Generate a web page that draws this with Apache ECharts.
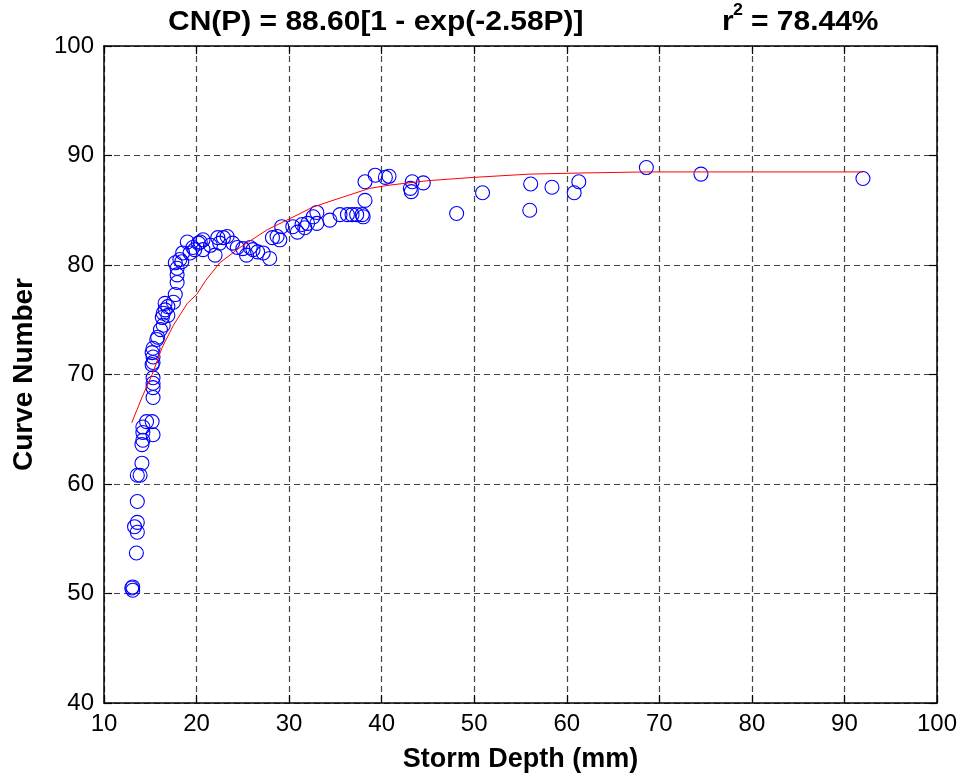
<!DOCTYPE html>
<html><head><meta charset="utf-8">
<script src="https://cdn.jsdelivr.net/npm/echarts@6/dist/echarts.min.js"></script>
<style>html,body{margin:0;padding:0;background:#fff}#c{width:962px;height:778px}</style>
</head><body><div id="c"></div>
<script>
const xTicks = [10,20,30,40,50,60,70,80,90,100];
const yTicks = [40,50,60,70,80,90,100];
const obsDepth = [13.0,13.1,13.1,13.5,13.6,13.3,13.6,13.6,14.1,13.9,13.6,14.6,15.2,14.2,15.3,14.2,14.2,14.1,15.3,15.3,15.3,15.3,15.3,15.2,15.3,15.3,15.2,16.3,16.4,16.1,15.8,15.7,16.6,16.9,16.6,16.4,16.9,17.7,17.5,17.9,17.9,18.5,19.3,18.2,17.7,18.4,17.9,19.0,20.4,19.6,21.5,22.9,23.3,22.5,23.9,20.7,20.2,20.7,19.8,22.0,22.3,24.4,25.0,25.4,25.8,26.1,26.6,27.2,27.9,28.2,28.7,29.0,29.2,30.4,30.9,31.4,31.7,32.0,33.0,32.6,33.0,34.4,35.5,36.3,36.8,37.3,37.9,38.0,38.2,38.2,39.3,40.4,40.8,43.3,43.1,43.2,44.5,48.1,50.9,56.1,56.0,58.4,60.8,61.3,68.6,74.5,92.0];
const obsCN = [50.5,50.6,50.3,53.7,56.5,56.1,55.6,58.4,61.9,60.8,60.8,65.7,65.7,65.2,64.5,64.7,64.0,63.6,69.7,69.2,68.8,67.9,72.4,72.0,71.6,71.1,70.9,75.2,74.5,74.1,73.4,73.2,76.5,76.2,75.9,75.6,75.4,77.3,76.6,79.1,78.4,81.1,81.1,80.5,80.2,80.3,79.7,82.1,82.1,81.6,81.8,82.5,82.6,82.0,82.0,82.3,82.0,81.4,81.4,80.9,82.5,81.6,81.5,80.9,81.6,81.4,81.2,81.1,80.6,82.5,82.6,82.3,83.5,83.5,83.0,83.7,83.4,83.8,83.8,84.4,84.8,84.1,84.6,84.6,84.6,84.6,84.6,84.4,85.9,87.6,88.2,88.0,88.1,87.6,87.0,86.7,87.5,84.7,86.6,87.4,85.0,87.1,86.6,87.6,88.9,88.3,87.9];
const fitDepth = [13.0,14.1,15.2,16.3,17.5,19.0,20.0,21.0,22.5,24.7,27.6,30.0,32.6,35.8,38.7,40.9,45.0,49.9,56.0,61.4,68.6,74.5,92.0];
const fitCN = [65.6,67.9,70.0,72.5,74.5,76.5,77.3,78.6,80.2,81.6,83.2,84.2,85.3,86.2,87.0,87.3,87.7,88.0,88.3,88.4,88.5,88.5,88.5];

const FONT = '"Liberation Sans", Arial, sans-serif';
const chart = echarts.init(document.getElementById('c'), null, {renderer:'canvas'});
const gridLine = {show:true, lineStyle:{color:'#444', width:1.2, type:[6,4]}};
const axisLineBlack = {show:true, onZero:false, lineStyle:{color:'#000', width:1.5}};
const tick = {show:true, inside:true, length:8, lineStyle:{color:'#000', width:1.2}};
chart.setOption({
  animation:false,
  backgroundColor:'#fff',
  grid:{left:104, right:25, top:46, bottom:75, containLabel:false},
  xAxis:[{
    type:'value', min:10, max:100, interval:10, position:'bottom',
    axisLine:axisLineBlack, axisTick:tick,
    splitLine:gridLine,
    axisLabel:{color:'#000', fontFamily:FONT, fontSize:24, margin:9},
    name:'Storm Depth (mm)', nameLocation:'middle', nameGap:43,
    nameTextStyle:{color:'#000', fontFamily:FONT, fontSize:27, fontWeight:'bold'}
  },{
    type:'value', min:10, max:100, interval:10, position:'top',
    axisLine:axisLineBlack, axisTick:tick,
    splitLine:{show:false}, axisLabel:{show:false}
  }],
  yAxis:[{
    type:'value', min:40, max:100, interval:10, position:'left',
    axisLine:axisLineBlack, axisTick:tick,
    splitLine:gridLine,
    axisLabel:{color:'#000', fontFamily:FONT, fontSize:24, margin:10},
    name:'Curve Number', nameLocation:'middle', nameGap:66, nameRotate:90,
    nameTextStyle:{color:'#000', fontFamily:FONT, fontSize:28, fontWeight:'bold'}
  },{
    type:'value', min:40, max:100, interval:10, position:'right',
    axisLine:axisLineBlack, axisTick:tick,
    splitLine:{show:false}, axisLabel:{show:false}
  }],
  graphic:[
    {type:'text', x:168, y:23, scaleX:1.11, style:{text:'CN(P) = 88.60[1 - exp(-2.58P)]', font:'bold 27px '+FONT, fill:'#000', verticalAlign:'middle', align:'left'}},
    {type:'text', x:722, y:23, scaleX:1.11, style:{text:'r', font:'bold 27px '+FONT, fill:'#000', verticalAlign:'middle', align:'left'}},
    {type:'text', x:733, y:11, scaleX:1.11, style:{text:'2', font:'bold 16px '+FONT, fill:'#000', verticalAlign:'middle', align:'left'}},
    {type:'text', x:751, y:23, scaleX:1.11, style:{text:'= 78.44%', font:'bold 27px '+FONT, fill:'#000', verticalAlign:'middle', align:'left'}}
  ],
  series:[{
    type:'scatter', xAxisIndex:0, yAxisIndex:0,
    data: obsDepth.map((d,i)=>[d, obsCN[i]]),
    symbol:'circle', symbolSize:14,
    itemStyle:{color:'rgba(0,0,0,0)', borderColor:'#0000ff', borderWidth:1.1, opacity:1},
    z:3
  },{
    type:'line', xAxisIndex:0, yAxisIndex:0,
    data: fitDepth.map((d,i)=>[d, fitCN[i]]),
    showSymbol:false, symbol:'none',
    lineStyle:{color:'#ff0000', width:1}, z:4
  }]
});
</script></body></html>
